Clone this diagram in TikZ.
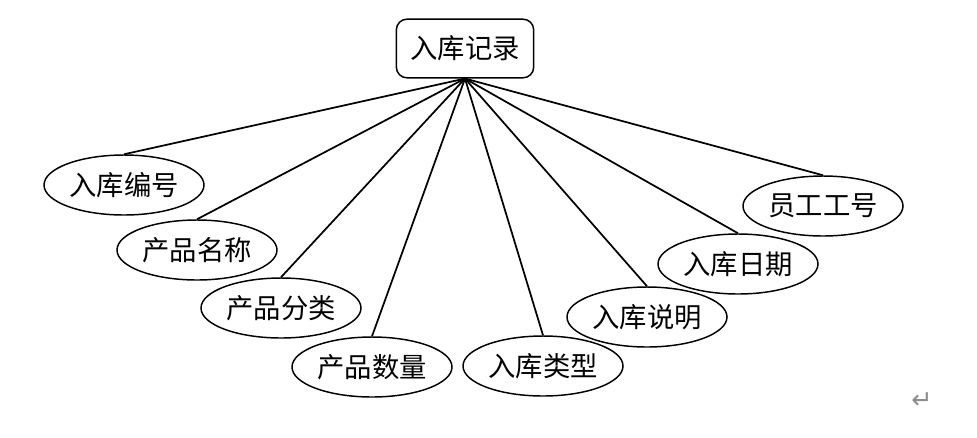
\documentclass[tikz,border=0pt]{standalone}
\usepackage{fontspec}
\newfontfamily\cjk{Noto Sans CJK SC}
\newfontfamily\marksfont{DejaVu Sans}
\usetikzlibrary{shapes.geometric}
\definecolor{LineClr}{rgb}{0,0,0}
\definecolor{MarkClr}{rgb}{0.55,0.55,0.55}

\begin{document}
\begin{tikzpicture}[x=0.75pt,y=-0.75pt,
  entity/.style={rectangle,rounded corners=8pt,draw=LineClr,line width=1.1pt,
    minimum width=103pt,minimum height=44pt,inner sep=0pt,
    font=\cjk\fontsize{20.5}{20.5}\selectfont},
  attr/.style={ellipse,draw=LineClr,line width=1.1pt,
    minimum width=120pt,minimum height=45pt,inner sep=0pt,
    font=\cjk\fontsize{20.5}{20.5}\selectfont},
  link/.style={line width=1.3pt,color=LineClr}]
\useasboundingbox (0,0) rectangle (977,437);

\node[entity] (rec) at (465,48.5) {入库记录};

\node[attr] (num)   at (124,185) {入库编号};
\node[attr] (name)  at (197,250) {产品名称};
\node[attr] (cat)   at (281,308) {产品分类};
\node[attr] (qty)   at (372,367) {产品数量};
\node[attr] (type)  at (543,366) {入库类型};
\node[attr] (note)  at (647,317) {入库说明};
\node[attr] (date)  at (738,264) {入库日期};
\node[attr] (staff) at (823,206) {员工工号};

\foreach \a in {num,name,cat,qty,type,note,date,staff}
  \draw[link] (rec.south) -- (\a.north);

\node[text=MarkClr,font=\marksfont\fontsize{19}{19}\selectfont] (ret) at (922,401) {↵};
\end{tikzpicture}
\end{document}
